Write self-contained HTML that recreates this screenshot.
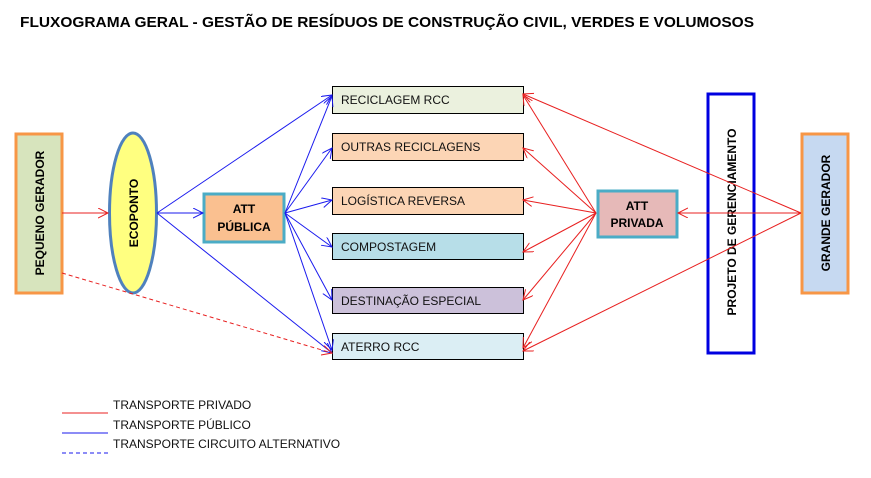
<!DOCTYPE html>
<html><head><meta charset="utf-8"><style>
body{margin:0;background:#fff}
svg{display:block;font-family:"Liberation Sans",sans-serif}
</style></head><body>
<svg width="871" height="478" viewBox="0 0 871 478" xmlns="http://www.w3.org/2000/svg">
<defs>
<marker id="ab" markerWidth="12" markerHeight="12" refX="10" refY="5" orient="auto" markerUnits="userSpaceOnUse"><path d="M0,0 L10,5 L0,10" fill="none" stroke="#1a1aee" stroke-width="1"/></marker>
<marker id="ar" markerWidth="12" markerHeight="12" refX="10" refY="5" orient="auto" markerUnits="userSpaceOnUse"><path d="M0,0 L10,5 L0,10" fill="none" stroke="#e82020" stroke-width="1"/></marker>
</defs>
<text x="20" y="27" font-size="15" font-weight="bold" textLength="734" lengthAdjust="spacingAndGlyphs">FLUXOGRAMA GERAL - GESTÃO DE RESÍDUOS DE CONSTRUÇÃO CIVIL, VERDES E VOLUMOSOS</text>

<!-- middle boxes -->
<g stroke="#000" stroke-width="1">
<rect x="332.5" y="86.5" width="191" height="27" fill="#EBF1DE"/>
<rect x="332.5" y="133.5" width="191" height="27" fill="#FCD5B5"/>
<rect x="332.5" y="187.5" width="191" height="27" fill="#FCD5B5"/>
<rect x="332.5" y="233.5" width="191" height="26" fill="#B7DEE8"/>
<rect x="332.5" y="287.5" width="191" height="26" fill="#CCC1DA"/>
<rect x="332.5" y="333.5" width="191" height="26" fill="#DBEEF4"/>
</g>
<g font-size="12" fill="#111">
<text x="341" y="104">RECICLAGEM RCC</text>
<text x="341" y="151">OUTRAS RECICLAGENS</text>
<text x="341" y="205">LOGÍSTICA REVERSA</text>
<text x="341" y="251">COMPOSTAGEM</text>
<text x="341" y="305">DESTINAÇÃO ESPECIAL</text>
<text x="341" y="351">ATERRO RCC</text>
</g>

<!-- left nodes -->
<rect x="16" y="134" width="46" height="159" fill="#D7E4BD" stroke="#F79646" stroke-width="3"/>
<text transform="translate(44,213) rotate(-90)" text-anchor="middle" font-size="12" font-weight="bold">PEQUENO GERADOR</text>
<ellipse cx="133" cy="213" rx="23.5" ry="80" fill="#FFFF80" stroke="#4F81BD" stroke-width="3"/>
<text transform="translate(138,213) rotate(-90)" text-anchor="middle" font-size="12" font-weight="bold">ECOPONTO</text>
<rect x="204" y="194" width="80" height="48" fill="#FAC090" stroke="#4BACC6" stroke-width="3"/>
<text x="244" y="213" text-anchor="middle" font-size="12" font-weight="bold">ATT</text>
<text x="244" y="231" text-anchor="middle" font-size="12" font-weight="bold">PÚBLICA</text>

<!-- right nodes -->
<rect x="598" y="191" width="79" height="46" fill="#E6B9B8" stroke="#4BACC6" stroke-width="3"/>
<text x="637" y="210" text-anchor="middle" font-size="12" font-weight="bold">ATT</text>
<text x="637" y="227" text-anchor="middle" font-size="12" font-weight="bold">PRIVADA</text>
<rect x="708" y="94" width="46" height="259" fill="#fff" stroke="#0000E0" stroke-width="3"/>
<text transform="translate(736,222) rotate(-90)" text-anchor="middle" font-size="12" font-weight="bold">PROJETO DE GERENCIAMENTO</text>
<rect x="802" y="134" width="46" height="159" fill="#C6D9F1" stroke="#F79646" stroke-width="3"/>
<text transform="translate(830,213) rotate(-90)" text-anchor="middle" font-size="12" font-weight="bold">GRANDE GERADOR</text>

<!-- blue lines -->
<g stroke="#1a1aee" stroke-width="1" fill="none" marker-end="url(#ab)">
<line x1="157" y1="213" x2="203" y2="213"/>
<line x1="157" y1="213" x2="332" y2="95"/>
<line x1="157" y1="213" x2="332" y2="353"/>
<line x1="285" y1="213" x2="332" y2="96"/>
<line x1="285" y1="213" x2="332" y2="148"/>
<line x1="285" y1="213" x2="332" y2="200"/>
<line x1="285" y1="213" x2="332" y2="247"/>
<line x1="285" y1="213" x2="332" y2="300"/>
<line x1="285" y1="213" x2="332" y2="350"/>
</g>
<!-- red lines -->
<g stroke="#e82020" stroke-width="1" fill="none" marker-end="url(#ar)">
<line x1="62" y1="213" x2="108" y2="213"/>
<line x1="62" y1="273" x2="332" y2="353" stroke-dasharray="4,3"/>
<line x1="596" y1="213" x2="523" y2="95"/>
<line x1="596" y1="213" x2="523" y2="148"/>
<line x1="596" y1="213" x2="523" y2="200"/>
<line x1="596" y1="213" x2="523" y2="252"/>
<line x1="596" y1="213" x2="523" y2="300"/>
<line x1="596" y1="213" x2="523" y2="348"/>
<line x1="801" y1="213" x2="678" y2="213"/>
<line x1="801" y1="213" x2="523" y2="94"/>
<line x1="801" y1="213" x2="523" y2="351"/>
</g>

<!-- legend -->
<line x1="62" y1="413" x2="108" y2="413" stroke="#e82020"/>
<line x1="62" y1="433" x2="108" y2="433" stroke="#1a1aee"/>
<line x1="62" y1="453" x2="108" y2="453" stroke="#1a1aee" stroke-dasharray="4,3"/>
<g font-size="12" fill="#111">
<text x="113" y="409">TRANSPORTE PRIVADO</text>
<text x="113" y="429">TRANSPORTE PÚBLICO</text>
<text x="113" y="448">TRANSPORTE CIRCUITO ALTERNATIVO</text>
</g>
</svg>
</body></html>
